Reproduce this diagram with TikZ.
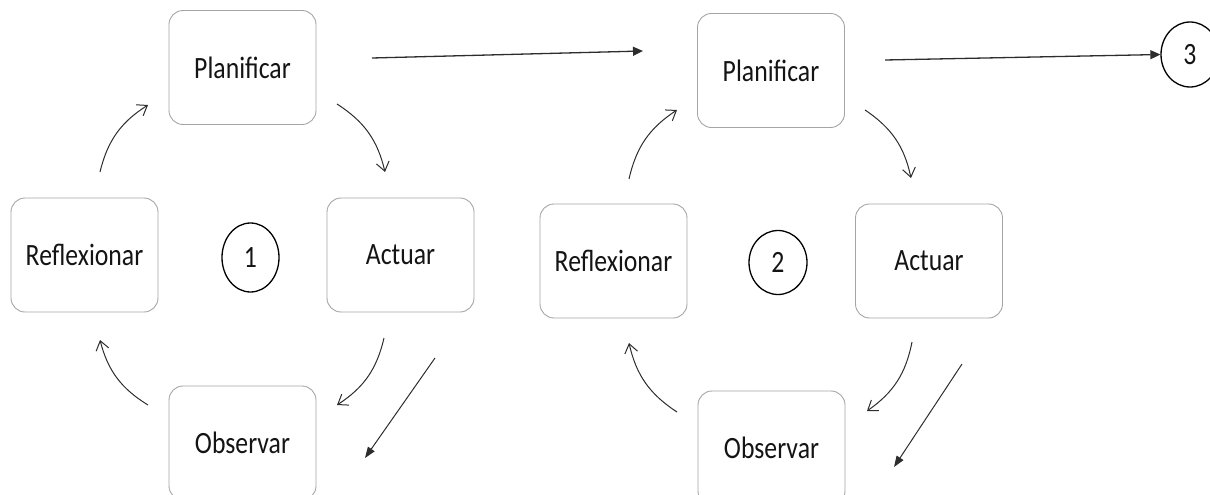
\documentclass[tikz,border=0pt]{standalone}
\usepackage{fontspec}
\setmainfont{Carlito}
\newfontfamily\labfont[FakeStretch=0.83]{Carlito}
\usetikzlibrary{arrows.meta,shapes.geometric}
\definecolor{boxgray}{RGB}{165,165,165}
\definecolor{arr}{RGB}{45,45,45}
\definecolor{txt}{RGB}{20,20,20}
\begin{document}
\begin{tikzpicture}[x=1pt,y=1pt,
  stage/.style={draw=boxgray, line width=0.9pt, rounded corners=14pt, minimum width=147pt, minimum height=114pt, inner sep=0pt, font=\labfont\fontsize{31}{36}\selectfont, text=txt},
  num/.style={draw=black, line width=1.3pt, ellipse, inner sep=0pt, font=\labfont\fontsize{31}{36}\selectfont, text=txt},
  loop/.style={draw=arr, line width=1pt, -{Straight Barb[length=9pt,width=13pt]}, bend left=22},
  go/.style={draw=arr, line width=1.3pt, -{Triangle[length=10pt,width=9pt]}},
  diag/.style={draw=arr, line width=1pt, -{Triangle[length=11pt,width=8pt]}}]
\useasboundingbox (0,0) rectangle (1210,-495);
\clip (0,0) rectangle (1210,-495);
% cycle 1
\node[stage] (P1) at (242.5,-67.5) {Planificar};
\node[stage] (R1) at (84.5,-255) {Reflexionar};
\node[stage] (A1) at (400.5,-255) {Actuar};
\node[stage] (O1) at (242.5,-443) {Observar};
\node[num, minimum width=57pt, minimum height=69pt] (C1) at (250.5,-257.5) {1};
% cycle 2
\node[stage] (P2) at (771,-70.5) {Planificar};
\node[stage] (R2) at (613.5,-261) {Reflexionar};
\node[stage] (A2) at (929,-261) {Actuar};
\node[stage] (O2) at (771.5,-448) {Observar};
\node[num, minimum width=58pt, minimum height=64pt] (C2) at (778,-262.5) {2};
% circle 3
\node[num, minimum width=58pt, minimum height=65pt] (C3) at (1190,-54.5) {3};
% arrow end points
\coordinate (rp1s) at (100,-172);  \coordinate (rp1e) at (148,-105);
\coordinate (pa1s) at (337,-104);  \coordinate (pa1e) at (385,-172);
\coordinate (ao1s) at (384,-338);  \coordinate (ao1e) at (337,-405);
\coordinate (or1s) at (148,-405);  \coordinate (or1e) at (100,-340);
\coordinate (d1s) at (435,-358);   \coordinate (d1e) at (365,-458);
\coordinate (t1s) at (372,-58);    \coordinate (t1e) at (643,-51);
\coordinate (rp2s) at (629,-179);  \coordinate (rp2e) at (677,-110);
\coordinate (pa2s) at (865,-110);  \coordinate (pa2e) at (911,-178);
\coordinate (ao2s) at (912,-342);  \coordinate (ao2e) at (867,-411);
\coordinate (or2s) at (677,-412);  \coordinate (or2e) at (629,-343);
\coordinate (d2s) at (962,-364);   \coordinate (d2e) at (894,-467);
\coordinate (t2s) at (885,-60);
% connectors
\draw[loop] (rp1s) to (rp1e);
\draw[loop] (pa1s) to (pa1e);
\draw[loop] (ao1s) to (ao1e);
\draw[loop] (or1s) to (or1e);
\draw[diag] (d1s) -- (d1e);
\draw[go] (t1s) -- (t1e);
\draw[loop] (rp2s) to (rp2e);
\draw[loop] (pa2s) to (pa2e);
\draw[loop] (ao2s) to (ao2e);
\draw[loop] (or2s) to (or2e);
\draw[diag] (d2s) -- (d2e);
\draw[go] (t2s) -- (C3.west);
\end{tikzpicture}
\end{document}
